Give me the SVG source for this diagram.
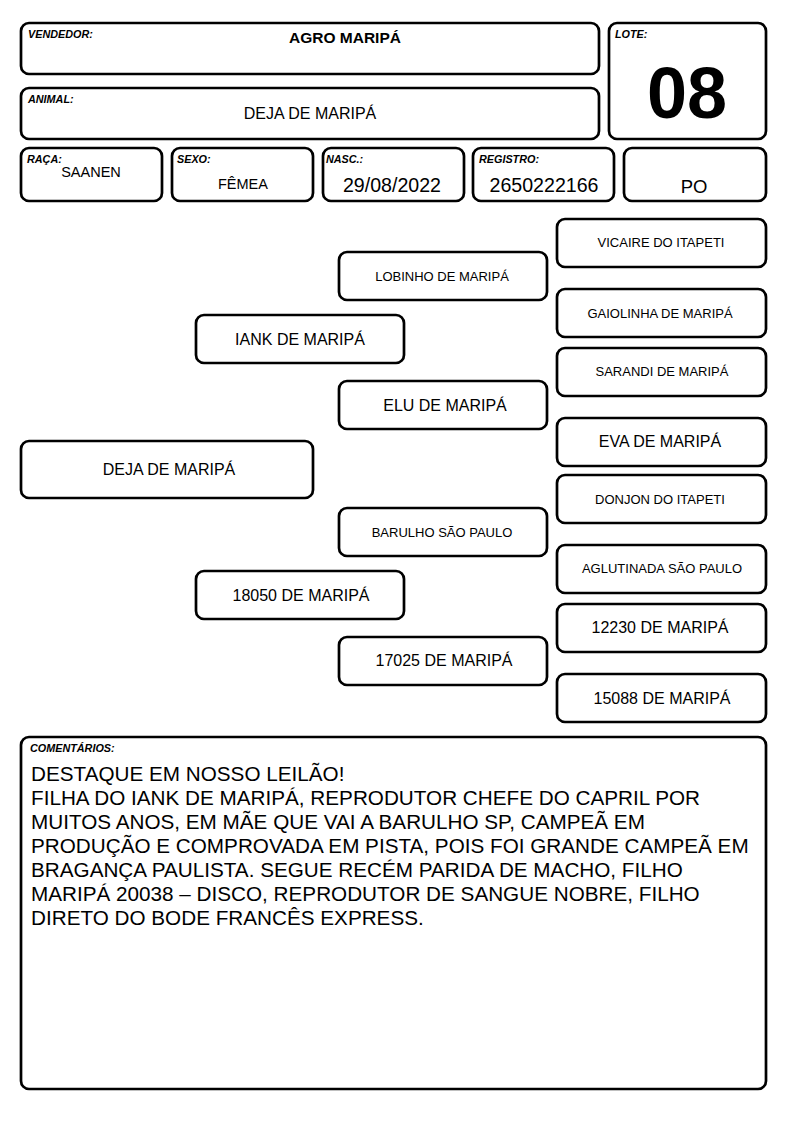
<svg xmlns="http://www.w3.org/2000/svg" width="794" height="1123" viewBox="0 0 794 1123">
<style>
.box{fill:#fff;stroke:#000;stroke-width:2.7}
.lbl{font-family:"Liberation Sans",Arial,sans-serif;font-size:10.8px;font-weight:bold;font-style:italic;fill:#000}
.t{font-family:"Liberation Sans",Arial,sans-serif;fill:#000;text-anchor:middle}
.s13{font-size:13px}
.s16{font-size:16px}
.s19{font-size:19.6px}
.cm{font-family:"Liberation Sans",Arial,sans-serif;font-size:20.7px;fill:#000}
</style>
<rect width="794" height="1123" fill="#fff"/>
<g id="vendedor">
<rect class="box" x="21" y="23" width="578" height="51" rx="8"/>
<text class="lbl" x="28" y="38">VENDEDOR:</text>
<text class="t" x="345" y="43" font-size="15.5" font-weight="bold">AGRO MARIPÁ</text>
</g>
<g id="animal">
<rect class="box" x="21" y="88" width="578" height="51" rx="8"/>
<text class="lbl" x="28" y="103">ANIMAL:</text>
<text class="t s16" x="310" y="119">DEJA DE MARIPÁ</text>
</g>
<g id="lote">
<rect class="box" x="609" y="23" width="157" height="116" rx="8"/>
<text class="lbl" x="615" y="38">LOTE:</text>
<text class="t" x="687" y="118" font-size="72" font-weight="bold">08</text>
</g>
<g id="raca">
<rect class="box" x="21" y="148" width="141" height="53" rx="8"/>
<text class="lbl" x="27" y="163">RAÇA:</text>
<text class="t" x="91" y="177" font-size="14.5">SAANEN</text>
</g>
<g id="sexo">
<rect class="box" x="172" y="148" width="141" height="53" rx="8"/>
<text class="lbl" x="177" y="163">SEXO:</text>
<text class="t" x="243" y="189" font-size="14.5">FÊMEA</text>
</g>
<g id="nasc">
<rect class="box" x="323" y="148" width="141" height="53" rx="8"/>
<text class="lbl" x="326" y="163">NASC.:</text>
<text class="t s19" x="392" y="192">29/08/2022</text>
</g>
<g id="registro">
<rect class="box" x="473" y="148" width="141" height="53" rx="8"/>
<text class="lbl" x="479" y="163">REGISTRO:</text>
<text class="t s19" x="544" y="192">2650222166</text>
</g>
<g id="po">
<rect class="box" x="624" y="148" width="142" height="53" rx="8"/>
<text class="t" x="694" y="193" font-size="18.5">PO</text>
</g>
<g id="connectors"></g>
<g id="deja">
<rect class="box" x="21" y="441" width="292" height="57" rx="8"/>
<text class="t s16" x="169" y="475">DEJA DE MARIPÁ</text>
</g>
<g id="iank">
<rect class="box" x="196" y="315" width="208" height="48" rx="8"/>
<text class="t s16" x="300" y="345">IANK DE MARIPÁ</text>
</g>
<g id="n18050">
<rect class="box" x="196" y="571" width="208" height="48" rx="8"/>
<text class="t s16" x="301" y="601">18050 DE MARIPÁ</text>
</g>
<g id="lobinho">
<rect class="box" x="339" y="252" width="208" height="48" rx="8"/>
<text class="t s13" x="442" y="281">LOBINHO DE MARIPÁ</text>
</g>
<g id="elu">
<rect class="box" x="339" y="381" width="208" height="48" rx="8"/>
<text class="t s16" x="445" y="411">ELU DE MARIPÁ</text>
</g>
<g id="barulho">
<rect class="box" x="339" y="508" width="208" height="48" rx="8"/>
<text class="t s13" x="442" y="537">BARULHO SÃO PAULO</text>
</g>
<g id="n17025">
<rect class="box" x="339" y="637" width="208" height="48" rx="8"/>
<text class="t s16" x="444" y="666">17025 DE MARIPÁ</text>
</g>
<g id="vicaire">
<rect class="box" x="557" y="219" width="209" height="48" rx="8"/>
<text class="t s13" x="661" y="247">VICAIRE DO ITAPETI</text>
</g>
<g id="gaiolinha">
<rect class="box" x="557" y="289" width="209" height="48" rx="8"/>
<text class="t s13" x="660" y="318">GAIOLINHA DE MARIPÁ</text>
</g>
<g id="sarandi">
<rect class="box" x="557" y="348" width="209" height="48" rx="8"/>
<text class="t s13" x="662" y="376">SARANDI DE MARIPÁ</text>
</g>
<g id="eva">
<rect class="box" x="557" y="418" width="209" height="48" rx="8"/>
<text class="t s16" x="660" y="447">EVA DE MARIPÁ</text>
</g>
<g id="donjon">
<rect class="box" x="557" y="475" width="209" height="48" rx="8"/>
<text class="t s13" x="660" y="504">DONJON DO ITAPETI</text>
</g>
<g id="aglutinada">
<rect class="box" x="557" y="545" width="209" height="48" rx="8"/>
<text class="t s13" x="662" y="573">AGLUTINADA SÃO PAULO</text>
</g>
<g id="n12230">
<rect class="box" x="557" y="604" width="209" height="48" rx="8"/>
<text class="t s16" x="660" y="633">12230 DE MARIPÁ</text>
</g>
<g id="n15088">
<rect class="box" x="557" y="674" width="209" height="48" rx="8"/>
<text class="t s16" x="662" y="704">15088 DE MARIPÁ</text>
</g>
<g id="comentarios">
<rect class="box" x="21" y="737" width="745" height="352" rx="8"/>
<text class="lbl" x="30" y="752">COMENTÁRIOS:</text>
<text class="cm" x="31" y="781">DESTAQUE EM NOSSO LEILÃO!</text>
<text class="cm" x="31" y="805">FILHA DO IANK DE MARIPÁ, REPRODUTOR CHEFE DO CAPRIL POR</text>
<text class="cm" x="31" y="829">MUITOS ANOS, EM MÃE QUE VAI A BARULHO SP, CAMPEÃ EM</text>
<text class="cm" x="31" y="853">PRODUÇÃO E COMPROVADA EM PISTA, POIS FOI GRANDE CAMPEÃ EM</text>
<text class="cm" x="31" y="877">BRAGANÇA PAULISTA. SEGUE RECÉM PARIDA DE MACHO, FILHO</text>
<text class="cm" x="31" y="901">MARIPÁ 20038 – DISCO, REPRODUTOR DE SANGUE NOBRE, FILHO</text>
<text class="cm" x="31" y="925">DIRETO DO BODE FRANCÊS EXPRESS.</text>
</g>
</svg>
